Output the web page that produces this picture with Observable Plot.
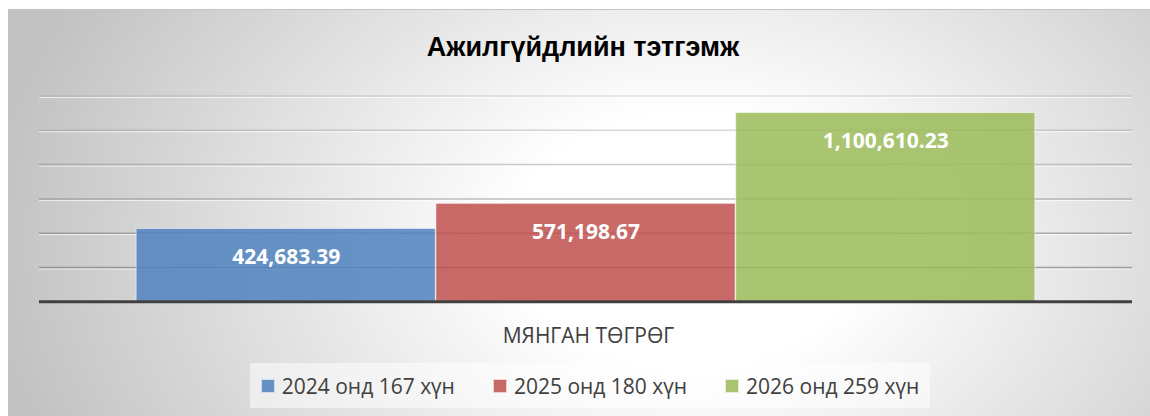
<!DOCTYPE html>
<html>
<head>
<meta charset="utf-8">
<script src="https://cdn.jsdelivr.net/npm/d3@7"></script>
<script src="https://cdn.jsdelivr.net/npm/@observablehq/plot@0.6"></script>
<style>
  body { margin: 0; background: #fff; }
  #chart {
    position: absolute; left: 8px; top: 9px; width: 1141px; height: 406px;
    border-top: 1px solid #c4c4c4; border-left: 1px solid #c4c4c4;
    background: radial-gradient(ellipse 700px 500px at 680px 230px, #ffffff 25%, #c2c2c2 100%);
    overflow: hidden;
  }
  .title {
    padding-top: 22px; padding-left: 7px; height: 32px; line-height: 32px;
    text-align: center; font: bold 27px "Liberation Sans", Arial, sans-serif; color: #000;
  }
  .xlabel {
    padding-top: 13px; padding-left: 18px; line-height: 24px; height: 24px;
    text-align: center; font: 21px "Open Sans", sans-serif; color: #404040;
  }
  .legend {
    margin-top: 18px; margin-left: 241px; width: 680px; height: 45px;
    background: rgba(255,255,255,0.5);
    display: flex; justify-content: center; align-items: center; gap: 38px;
  }
  .item { display: flex; align-items: center; font: 21px "Open Sans", sans-serif; color: #404040; line-height: 24px; }
  .sw { width: 12px; height: 12px; margin-right: 7px; border: 0.5px solid rgba(255,255,255,0.7); }
</style>
</head>
<body>
<div id="chart">
  <div class="title" id="title"></div>
  <div id="plot"></div>
  <div class="xlabel" id="xlabel"></div>
  <div class="legend" id="legend"></div>
</div>
<script>
const chartTitle = "Ажилгүйдлийн тэтгэмж";
const categoryLabel = "МЯНГАН ТӨГРӨГ";
const seriesNames = ["2024 онд 167 хүн", "2025 онд 180 хүн", "2026 онд 259 хүн"];
const seriesValues = [424683.39, 571198.67, 1100610.23];
const seriesColors = ["#4F81BD", "#C0504D", "#9BBB59"];
const gridTicks = [200000, 400000, 600000, 800000, 1000000, 1200000];
const yMax = 1200000;

const data = seriesNames.map((name, i) => ({name, value: seriesValues[i]}));
const fmt = d3.format(",.2f");

document.getElementById("title").textContent = chartTitle;
document.getElementById("xlabel").textContent = categoryLabel;

const plot = Plot.plot({
  width: 1141,
  height: 244,
  marginLeft: 30,
  marginRight: 18,
  marginTop: 31.5,
  marginBottom: 6.7,
  style: {background: "transparent", fontFamily: "Open Sans"},
  x: {domain: seriesNames, paddingInner: 0.002, paddingOuter: 0.324, round: false, axis: null},
  y: {domain: [0, yMax], axis: null},
  color: {domain: seriesNames, range: seriesColors},
  marks: [
    Plot.ruleY(gridTicks, {y: d => d, stroke: "white", strokeOpacity: 0.7, strokeWidth: 1, dy: 1.5}),
    Plot.ruleY(gridTicks, {
      y: d => d, stroke: "#7a7a7a", strokeWidth: 1.5,
      strokeOpacity: {value: d => 0.2 + 0.55 * (1 - d / yMax), scale: null}
    }),
    Plot.barY(data, {x: "name", y: "value", fill: "name", fillOpacity: 0.85, stroke: "white", strokeOpacity: 0.55, strokeWidth: 1}),
    Plot.ruleY([0], {stroke: "#404040", strokeWidth: 3}),
    Plot.text(data, {
      x: "name", y: "value", text: d => fmt(d.value),
      fill: "white", fontWeight: "bold", fontSize: 21, fontFamily: "Open Sans",
      lineAnchor: "bottom", dy: 35
    })
  ]
});
document.getElementById("plot").appendChild(plot);

const legend = document.getElementById("legend");
seriesNames.forEach((name, i) => {
  const item = document.createElement("div");
  item.className = "item";
  const sw = document.createElement("span");
  sw.className = "sw";
  sw.style.background = seriesColors[i];
  sw.style.opacity = 0.85;
  const label = document.createElement("span");
  label.textContent = name;
  item.appendChild(sw);
  item.appendChild(label);
  legend.appendChild(item);
});
</script>
</body>
</html>
